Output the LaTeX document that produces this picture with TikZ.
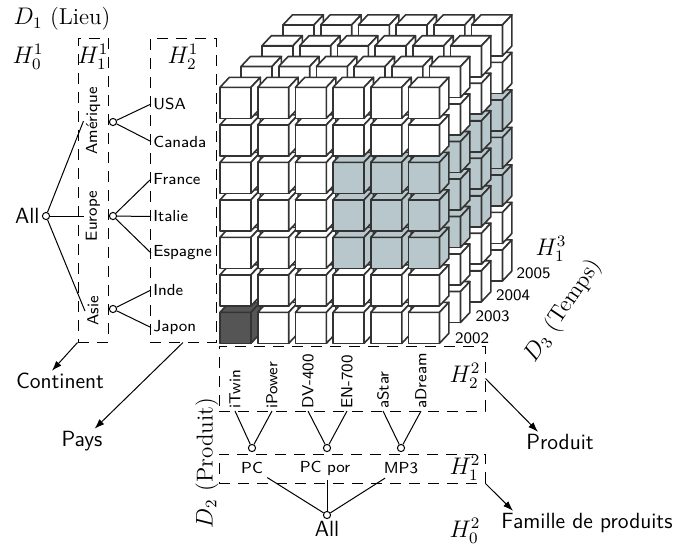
\documentclass[tikz,border=0pt]{standalone}
\usepackage{fontspec}
\usetikzlibrary{arrows.meta}

\definecolor{cubeline}{HTML}{333333}
\definecolor{cubeshade}{HTML}{B7C7CB}
\definecolor{cubedark}{HTML}{555555}

\begin{document}
\begin{tikzpicture}[x=0.5pt,y=-0.5pt,
  every node/.style={inner sep=1pt},
  smalllab/.style={font=\fontsize{8}{9.6}\selectfont\sffamily},
  biglab/.style={font=\fontsize{11}{13}\selectfont\sffamily},
  mathlab/.style={font=\fontsize{11.5}{13.5}\selectfont},
  hub/.style={circle, draw, fill=white, inner sep=0pt, minimum size=3.6pt, line width=0.5pt},
  levelbox/.style={draw, dash pattern=on 5.5pt off 4pt, line width=0.5pt, inner sep=0pt},
  link/.style={line width=0.5pt},
  pointer/.style={line width=0.5pt, -{Latex[length=5pt,width=3.5pt]}},
  cubeface/.style={draw=cubeline, line width=0.8pt, line join=round},
]
\useasboundingbox (0,0) rectangle (679,548);

% ---- data cube: 4 years (back to front), 6 products, 7 countries ----
\foreach \ly in {3,2,1,0}{
  \foreach \co in {0,...,5}{
    \foreach \ro in {6,5,4,3,2,1,0}{
      \pgfmathsetmacro\X{220+37.7*\co+21*\ly}
      \pgfmathsetmacro\Y{87.3+37.5*\ro-20.8*\ly}
      \def\fc{white}
      \ifnum\ro>1 \ifnum\ro<5 \ifnum\co>2 \def\fc{cubeshade}\fi\fi\fi
      \ifnum\ly=0 \ifnum\ro=6 \ifnum\co=0 \def\fc{cubedark}\fi\fi\fi
      \filldraw[cubeface, fill=\fc] (\X,\Y) rectangle ++(31,31);
      \filldraw[cubeface, fill=\fc] (\X,\Y) -- ++(9.4,-10) -- ++(31,0) -- ++(-9.4,10) -- cycle;
      \filldraw[cubeface, fill=\fc] (\X+31,\Y) -- ++(9.4,-10) -- ++(0,31) -- ++(-9.4,10) -- cycle;
    }
  }
}

% ---- dimension D1 (Lieu) ----
\node[mathlab] (d1) at (62,19) {$D_1$ (Lieu)};
\node[mathlab] (h10t) at (28,57) {$H_0^1$};
\node[mathlab] (h11t) at (93,57) {$H_1^1$};
\node[mathlab] (h21t) at (183,57) {$H_2^1$};
\node[levelbox, minimum width=15pt, minimum height=152pt] (h11) at (93,190) {};
\node[levelbox, minimum width=33pt, minimum height=152pt] (h21) at (183,190) {};

\node[smalllab, rotate=90] (ame) at (93,121) {Amérique};
\node[smalllab, rotate=90] (eur) at (93,216) {Europe};
\node[smalllab, rotate=90] (asi) at (93,311) {Asie};

\node[hub] (amec) at (113,122) {};
\node[hub] (eurc) at (113,216) {};
\node[hub] (asic) at (113,309) {};
\node[hub] (allc) at (46,216) {};
\node[biglab, anchor=east] (allL) at (allc.west) {All};

\node[smalllab, anchor=west] (usa) at (151,104) {USA};
\node[smalllab, anchor=west] (can) at (151,141.5) {Canada};
\node[smalllab, anchor=west] (fra) at (151,179) {France};
\node[smalllab, anchor=west] (ita) at (151,216.5) {Italie};
\node[smalllab, anchor=west] (esp) at (151,253) {Espagne};
\node[smalllab, anchor=west] (ind) at (151,290) {Inde};
\node[smalllab, anchor=west] (jap) at (151,327.5) {Japon};

\draw[link] (allc) -- (ame.north);
\draw[link] (allc) -- (eur.north);
\draw[link] (allc) -- (asi.north);
\draw[link] (amec) -- (usa.west);
\draw[link] (amec) -- (can.west);
\draw[link] (eurc) -- (fra.west);
\draw[link] (eurc) -- (ita.west);
\draw[link] (eurc) -- (esp.west);
\draw[link] (asic) -- (ind.west);
\draw[link] (asic) -- (jap.west);

\node[biglab] (cont) at (60,381) {Continent};
\node[biglab] (pays) at (82,441) {Pays};
\draw[pointer] (h11.south west) -- ([xshift=-4pt]cont.north);
\draw[pointer] (h21.south) -- (pays);

% ---- dimension D2 (Produit) ----
\node[levelbox, minimum width=133pt, minimum height=32.5pt] (h22) at (352,378.5) {};
\node[levelbox, minimum width=133pt, minimum height=14.5pt] (h12) at (352,468.5) {};
\node[mathlab] (h22t) at (465,376) {$H_2^2$};
\node[mathlab] (h12t) at (465,468) {$H_1^2$};
\node[mathlab] (h02t) at (465,531) {$H_0^2$};
\node[mathlab, rotate=90] (d2) at (207,463) {$D_2$ (Produit)};

\node[smalllab, rotate=90, anchor=west] (itwin) at (235,411) {iTwin};
\node[smalllab, rotate=90, anchor=west] (ipow) at (272,411) {iPower};
\node[smalllab, rotate=90, anchor=west] (dv) at (308,411) {DV-400};
\node[smalllab, rotate=90, anchor=west] (en) at (347,411) {EN-700};
\node[smalllab, rotate=90, anchor=west] (astar) at (383,411) {aStar};
\node[smalllab, rotate=90, anchor=west] (adream) at (421,411) {aDream};

\node[hub] (pcc) at (252,448) {};
\node[hub] (porc) at (327,448) {};
\node[hub] (mpc) at (401,448) {};
\draw[link] (itwin.west) -- (pcc);
\draw[link] (ipow.west) -- (pcc);
\draw[link] (dv.west) -- (porc);
\draw[link] (en.west) -- (porc);
\draw[link] (astar.west) -- (mpc);
\draw[link] (adream.west) -- (mpc);

\node[smalllab, inner sep=2pt] (pc) at (252,468) {PC};
\node[smalllab, inner sep=2pt] (por) at (325,468) {PC por};
\node[smalllab, inner sep=2pt] (mp3) at (401,468) {MP3};
\node[hub] (allbc) at (327,515) {};
\node[biglab, anchor=north] (allB) at (allbc.south) {All};
\draw[link] (pc) -- (allbc);
\draw[link] (por.south -| allbc) -- (allbc);
\draw[link] (mp3) -- (allbc);

\node[biglab] (prod) at (560,442) {Produit};
\node[biglab] (fam) at (587,523) {Famille de produits};
\draw[pointer] (h22.east) -- ([xshift=-11pt]prod.north);
\draw[pointer] (h12.south east) -- ([xshift=-37pt]fam.north);

% ---- dimension D3 (Temps) ----
\node[mathlab] (h13t) at (551,249) {$H_1^3$};
\node[smalllab] (y2002) at (472,338) {2002};
\node[smalllab] (y2003) at (492.5,316.5) {2003};
\node[smalllab] (y2004) at (513,295) {2004};
\node[smalllab] (y2005) at (533.5,273.5) {2005};
\node[mathlab, rotate=56] (d3) at (563,311) {$D_3$ (Temps)};
\end{tikzpicture}
\end{document}
